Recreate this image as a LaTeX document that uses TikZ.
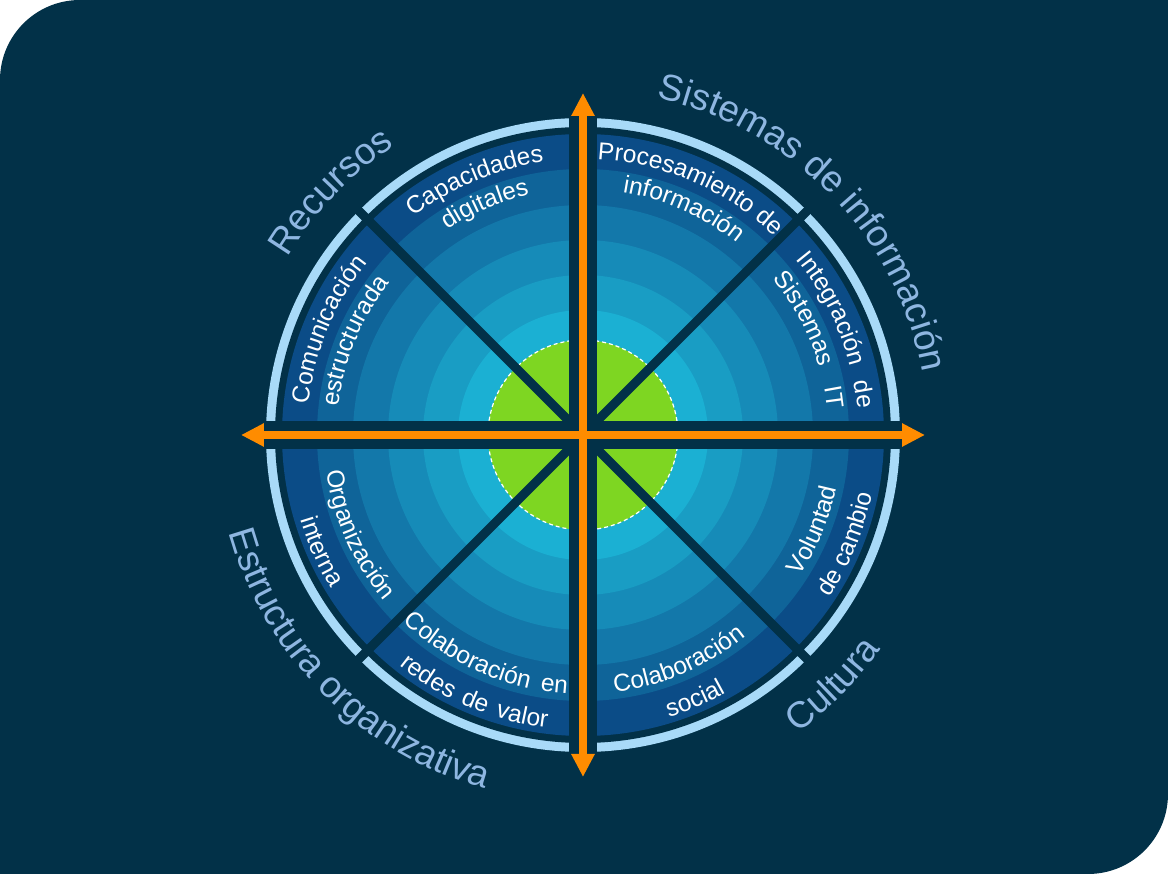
\documentclass[tikz,border=0pt]{standalone}
\usepackage{fontspec}
\setmainfont{Liberation Sans}
\usetikzlibrary{arrows.meta,decorations.text}
\definecolor{bgnavy}{RGB}{2,49,72}
\definecolor{rimlight}{RGB}{168,218,248}
\definecolor{rimtext}{RGB}{142,182,225}
\definecolor{axisorange}{RGB}{255,140,0}
\definecolor{coregreen}{RGB}{126,214,34}
\definecolor{bandA}{RGB}{11,76,135}
\definecolor{bandB}{RGB}{15,100,153}
\definecolor{bandC}{RGB}{19,120,170}
\definecolor{bandD}{RGB}{22,139,184}
\definecolor{bandE}{RGB}{25,157,196}
\definecolor{bandF}{RGB}{27,176,211}
\newcommand{\rimfont}{\fontsize{37}{44}\selectfont}
\newcommand{\sectorfont}{\fontsize{24.5}{29}\selectfont}

\begin{document}
\begin{tikzpicture}[x=1pt,y=1pt,
		spoke/.style={draw=bgnavy,line width=9pt},
		axisband/.style={draw=bgnavy,line width=28pt},
		axisarrow/.style={draw=axisorange,line width=8pt,{Triangle[length=23pt,width=22pt]}-{Triangle[length=23pt,width=22pt]}},
		rimtop/.style={decorate,decoration={text along path,text color=rimtext,text align=center,text={|\rimfont|#1}}},
		sectortext/.style={decorate,decoration={text along path,text color=white,text align=center,text={|\sectorfont|#1}}},
		sectorfit/.style={decorate,decoration={text along path,text color=white,text align=fit to path stretching spaces,text={|\sectorfont|#1}}}]
		\useasboundingbox (-583,-439) rectangle (585,435);
		\fill[white] (-583,-439) rectangle (585,435);
		\fill[bgnavy] (-583,-439) -- (505,-439) arc[start angle=270,end angle=360,radius=80] -- (585,435) -- (-503,435) arc[start angle=90,end angle=180,radius=80] -- cycle;

		\coordinate (O) at (0,0);
		\coordinate (N) at (0,342);
		\coordinate (S) at (0,-342);
		\coordinate (E) at (342,0);
		\coordinate (W) at (-342,0);

		\fill[rimlight] (O) circle (317);
		\fill[bgnavy] (O) circle (308);
		\foreach \r/\c in {301/bandA,266/bandB,230/bandC,195/bandD,160/bandE,125/bandF}
		\fill[\c] (O) circle (\r);
		\draw[fill=coregreen,draw=white,line width=1.2pt,dash pattern=on 4pt off 3pt] (O) circle (95);

		\foreach \a in {45,135,225,315}
		\draw[spoke] (O) -- (\a:326);
		\draw[axisband] (-322,0) -- (322,0);
		\draw[axisband] (0,-322) -- (0,322);
		\draw[axisarrow] (W) -- (E);
		\draw[axisarrow] (S) -- (N);

		\path[rimtop=Recursos] (176:345) arc[start angle=176,end angle=96,radius=345];
		\path[rimtop={Sistemas de información}] (89:345) arc[start angle=89,end angle=-1,radius=345];
		\path[rimtop={Estructura organizativa}] (180:367) arc[start angle=180,end angle=270,radius=367];
		\path[rimtop=Cultura] (285:367) arc[start angle=285,end angle=345,radius=367];

		\path[sectortext=Capacidades] (134:276) arc[start angle=134,end angle=92,radius=276];
		\path[sectortext=digitales] (134:246) arc[start angle=134,end angle=92,radius=246];
		\path[sectortext={Procesamiento de}] (89:276) arc[start angle=89,end angle=44,radius=276];
		\path[sectortext=información] (87:246) arc[start angle=87,end angle=45,radius=246];
		\path[sectortext=Comunicación] (178:276) arc[start angle=178,end angle=137,radius=276];
		\path[sectortext=estructurada] (178:246) arc[start angle=178,end angle=137,radius=246];
		\path[sectorfit={Integración de}] (39.5:276) arc[start angle=39.5,end angle=5.5,radius=276];
		\path[sectorfit={Sistemas IT}] (39.5:246) arc[start angle=39.5,end angle=6,radius=246];

		\path[sectorfit={Colaboración en}] (226:259) arc[start angle=226,end angle=266.5,radius=259];
		\path[sectorfit={redes de valor}] (231.5:295) arc[start angle=231.5,end angle=263,radius=295];
		\path[sectortext=Colaboración] (273:259) arc[start angle=273,end angle=313,radius=259];
		\path[sectortext=social] (273:295) arc[start angle=273,end angle=313,radius=295];
		\path[sectortext=Organización] (184:259) arc[start angle=184,end angle=224,radius=259];
		\path[sectortext=interna] (184:295) arc[start angle=184,end angle=224,radius=295];
		\path[sectortext=Voluntad] (317:259) arc[start angle=317,end angle=358,radius=259];
		\path[sectortext={de cambio}] (317:295) arc[start angle=317,end angle=358,radius=295];
\end{tikzpicture}
\end{document}
